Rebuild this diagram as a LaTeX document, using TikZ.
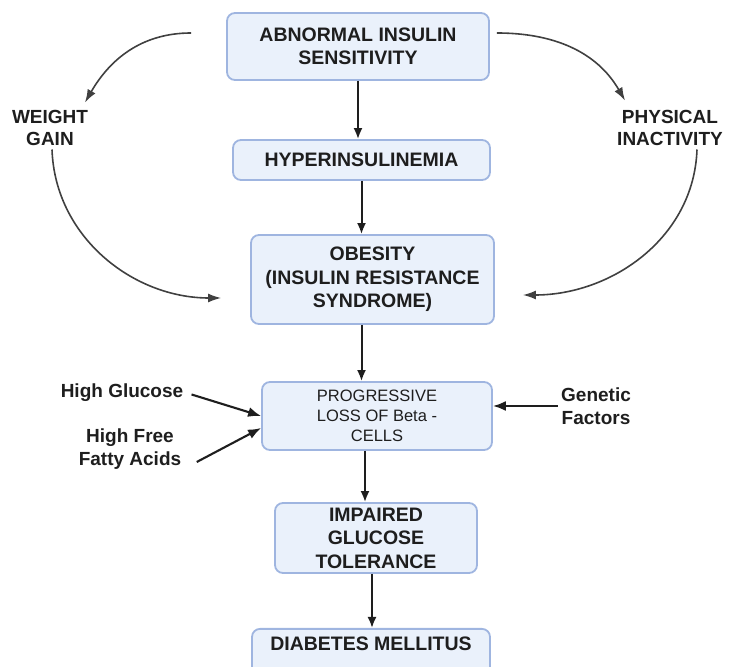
\documentclass[tikz,border=0pt]{standalone}
\usepackage{fontspec}
\setmainfont{Liberation Sans}
\usetikzlibrary{arrows.meta,positioning}
\definecolor{boxfill}{HTML}{EAF1FB}
\definecolor{boxline}{HTML}{9FB5E0}
\definecolor{ink}{HTML}{1E1E1E}
\tikzstyle{stagebox} = [draw=boxline, fill=boxfill, line width=1.8pt,
rounded corners=8pt, align=center, text=ink, inner sep=0pt,
font=\fontsize{19.5}{23.5}\selectfont\bfseries]
\tikzstyle{cause} = [align=center, text=ink,
font=\fontsize{19}{22.5}\selectfont\bfseries]
\tikzstyle{arr} = [draw=ink, line width=2pt, -{Latex[length=11pt,width=9pt]}]
\tikzstyle{sidearr} = [draw=ink, line width=2.1pt, -{Latex[length=13pt,width=10pt]}]
\tikzstyle{bendarr} = [draw=ink!85, line width=1.6pt, -{Latex[length=13pt,width=9pt]}]

\begin{document}
\begin{tikzpicture}[x=1pt,y=1pt]
		\useasboundingbox (0,0) rectangle (729,667);
		\clip (0,0) rectangle (729,667);
		% main chain
		\node [stagebox, minimum width=262pt, minimum height=67pt] (abn) at (358,620.5) {ABNORMAL INSULIN\\SENSITIVITY};
		\node [stagebox, minimum width=257pt, minimum height=40pt] (hyp) at (361.5,507) {HYPERINSULINEMIA};
		\node [stagebox, minimum width=243pt, minimum height=89pt] (obe) at (372.5,387.5) {OBESITY\\(INSULIN RESISTANCE\\SYNDROME)};
		\node [stagebox, minimum width=230pt, minimum height=68pt, font=\fontsize{16.5}{20}\selectfont] (prog) at (377,251) {PROGRESSIVE\\LOSS OF Beta -\\CELLS};
		\node [stagebox, minimum width=202pt, minimum height=70pt] (imp) at (376,129) {IMPAIRED\\GLUCOSE\\TOLERANCE};
		\node [stagebox, minimum width=238pt, anchor=north, inner ysep=8pt, text height=14pt, text depth=33pt] (dia) at (371,39) {DIABETES MELLITUS};
		
		% causes
		\node [cause] (wg) at (50,539) {WEIGHT\\GAIN};
		\node [cause] (phy) at (670,539) {PHYSICAL\\INACTIVITY};
		\node [cause] (hg) at (122,274) {High Glucose};
		\node [cause] (hf) at (130,218) {High Free\\Fatty Acids};
		\node [cause] (gf) at (596,261) {Genetic\\Factors};
		
		\draw [arr] (abn.south) -- (abn.south |- hyp.north);
		\draw [arr] (hyp.south) -- (hyp.south |- obe.north);
		\draw [arr] (hyp.south |- obe.south) -- (hyp.south |- prog.north);
		\draw [arr] ([xshift=-12pt]prog.south) -- ([xshift=-12pt]prog.south |- imp.north);
		\draw [arr] ([xshift=-4pt]imp.south) -- ([xshift=-4pt]imp.south |- dia.north);
		
		\draw [sidearr, shorten <=5pt] (hg.east) -- (prog.west);
		\draw [sidearr] ([xshift=12pt,yshift=-13pt]hf.east) -- ([yshift=-12pt]prog.west);
		\draw [sidearr] (gf.west) -- (gf.west -| prog.east);
		
		%\draw [bendarr] (abn.west) to (wg);
		\draw [bendarr] ([xshift=-35pt,yshift=13.5pt]abn.west) to[out=180,in=60] ([xshift=35pt,yshift=4pt]wg.north);
		\draw [bendarr] ([xshift=2pt]wg.south) to[out=-88,in=180] ([xshift=-29pt,yshift=-18.5pt]obe.west);
		\draw [bendarr] ([xshift=7pt,yshift=13.5pt]abn.east) to[out=0,in=120] ([xshift=-45pt,yshift=6pt]phy.north);
		\draw [bendarr] ([xshift=27pt]phy.south) to[out=-92,in=0] ([xshift=28pt,yshift=-15.5pt]obe.east);
\end{tikzpicture}
\end{document}
